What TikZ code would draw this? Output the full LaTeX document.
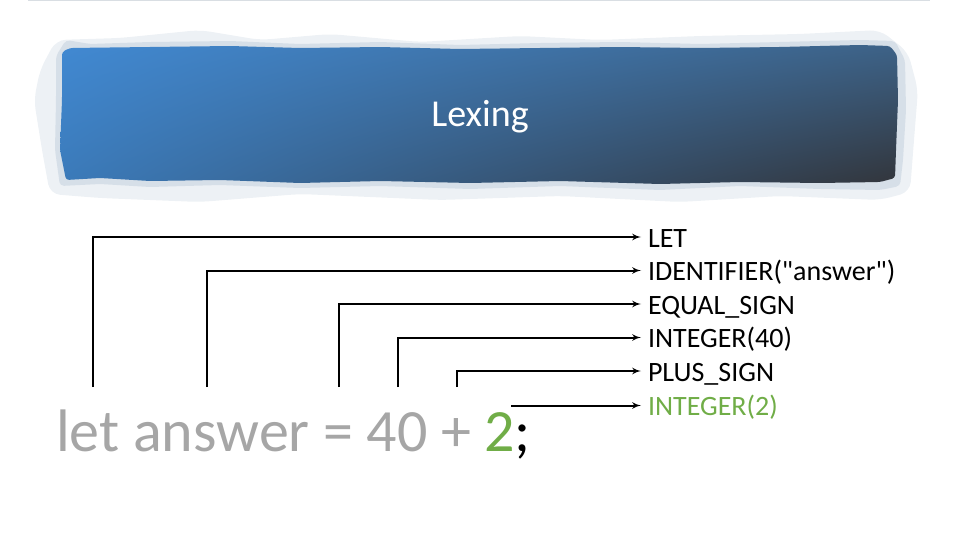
\documentclass[tikz,border=0pt]{standalone}
\usepackage{fontspec}
\setmainfont{Carlito}
\usepackage{tikz}
\usetikzlibrary{arrows,shapes,shadings}

\definecolor{codegrey}{HTML}{A6A6A6}
\definecolor{codegreen}{HTML}{70AD47}
\definecolor{bannerUL}{HTML}{4189D2}
\definecolor{bannerUR}{HTML}{3D6287}
\definecolor{bannerLL}{HTML}{3B7AB9}
\definecolor{bannerLR}{HTML}{32353B}
\definecolor{haze}{HTML}{EDF1F5}
\definecolor{hazedark}{HTML}{D6DFE8}
\definecolor{topline}{HTML}{D9DEE3}

\begin{document}
\begin{tikzpicture}[x=1pt,y=-1pt]
	
	\tikzset{token/.style = {anchor=west, inner sep=0pt, outer xsep=7pt, text height=20pt, text depth=0pt, font=\fontsize{28}{33.6}\selectfont}}
	\tikzset{edge/.style = {->,> = latex', line width=2pt}}
	\tikzset{title/.style = {text=white, font=\fontsize{38}{42}\selectfont}}
	\tikzset{code/.style = {anchor=base west, inner sep=0pt, text=codegrey, font=\fontsize{60}{64}\selectfont}}
	
	\useasboundingbox (0,0) rectangle (960,540);
	
	% banner
	\draw[topline, line width=1.2pt] (28,0.6) -- (930,0.6);
	\fill[haze, rounded corners=10pt] (40,70) -- (56,40) -- (120,38) -- (200,30) -- (260,40) -- (330,34) -- (420,42) -- (520,36) -- (600,40) -- (700,36) -- (800,34) -- (880,30) -- (908,52) -- (918,90) -- (914,140) -- (910,192) -- (880,200) -- (780,196) -- (680,202) -- (560,196) -- (440,200) -- (300,194) -- (200,202) -- (100,198) -- (50,194) -- (42,150) -- (34,100) -- cycle;
	\fill[hazedark, rounded corners=4pt] (56,56) -- (66,40) -- (90,44) -- (150,42) -- (230,41) -- (300,44) -- (380,42) -- (460,45) -- (540,43) -- (620,42) -- (700,44) -- (780,42) -- (860,40) -- (895,41) -- (905,60) -- (906,110) -- (903,160) -- (900,186) -- (880,190) -- (820,189) -- (740,186) -- (660,190) -- (560,186) -- (470,189) -- (380,186) -- (300,188) -- (220,185) -- (150,187) -- (100,184) -- (60,186) -- (55,150) -- (56,100) -- cycle;
	\shade[upper left=bannerUL, upper right=bannerUR, lower left=bannerLL, lower right=bannerLR, rounded corners=3pt] (62,52) -- (70,48) -- (150,47) -- (230,46) -- (300,48) -- (380,47) -- (460,49) -- (540,48) -- (620,47) -- (700,48) -- (780,47) -- (860,45) -- (890,46) -- (897,55) -- (898,100) -- (896,150) -- (895,178) -- (880,182) -- (820,183) -- (740,182) -- (660,184) -- (560,181) -- (470,183) -- (380,181) -- (300,183) -- (220,180) -- (150,181) -- (100,178) -- (66,180) -- (60,150) -- (62,100) -- cycle;
	\node[title] (title) at (480,117) {Lexing};
	
	% source line
	\node[code] (src) at (56,451) {let answer = 40 + \textcolor{codegreen}{2}\textcolor{black}{;}};
	
	% tokens
	\node[token] (t1) at (641,237) {LET};
	\node[token] (t2) at (641,270.5) {IDENTIFIER(\textquotedbl answer\textquotedbl)};
	\node[token] (t3) at (641,304) {EQUAL\_SIGN};
	\node[token] (t4) at (641,337.5) {INTEGER(40)};
	\node[token] (t5) at (641,371) {PLUS\_SIGN};
	\node[token, text=codegreen] (t6) at (641,405.5) {INTEGER(2)};
	
	\coordinate (letkw) at (93,387);
	\coordinate (ident) at (207,387);
	\coordinate (eqsign) at (339,387);
	\coordinate (int40) at (398,387);
	\coordinate (plus) at (457,387);
	\coordinate (int2) at (511,405.5);
	
	\draw[edge] (letkw) |- (t1.west);
	\draw[edge] (ident) |- (t2.west);
	\draw[edge] (eqsign) |- (t3.west);
	\draw[edge] (int40) |- (t4.west);
	\draw[edge] (plus) |- (t5.west);
	\draw[edge] (int2) to (t6.west);
	\end{tikzpicture}
\end{document}
